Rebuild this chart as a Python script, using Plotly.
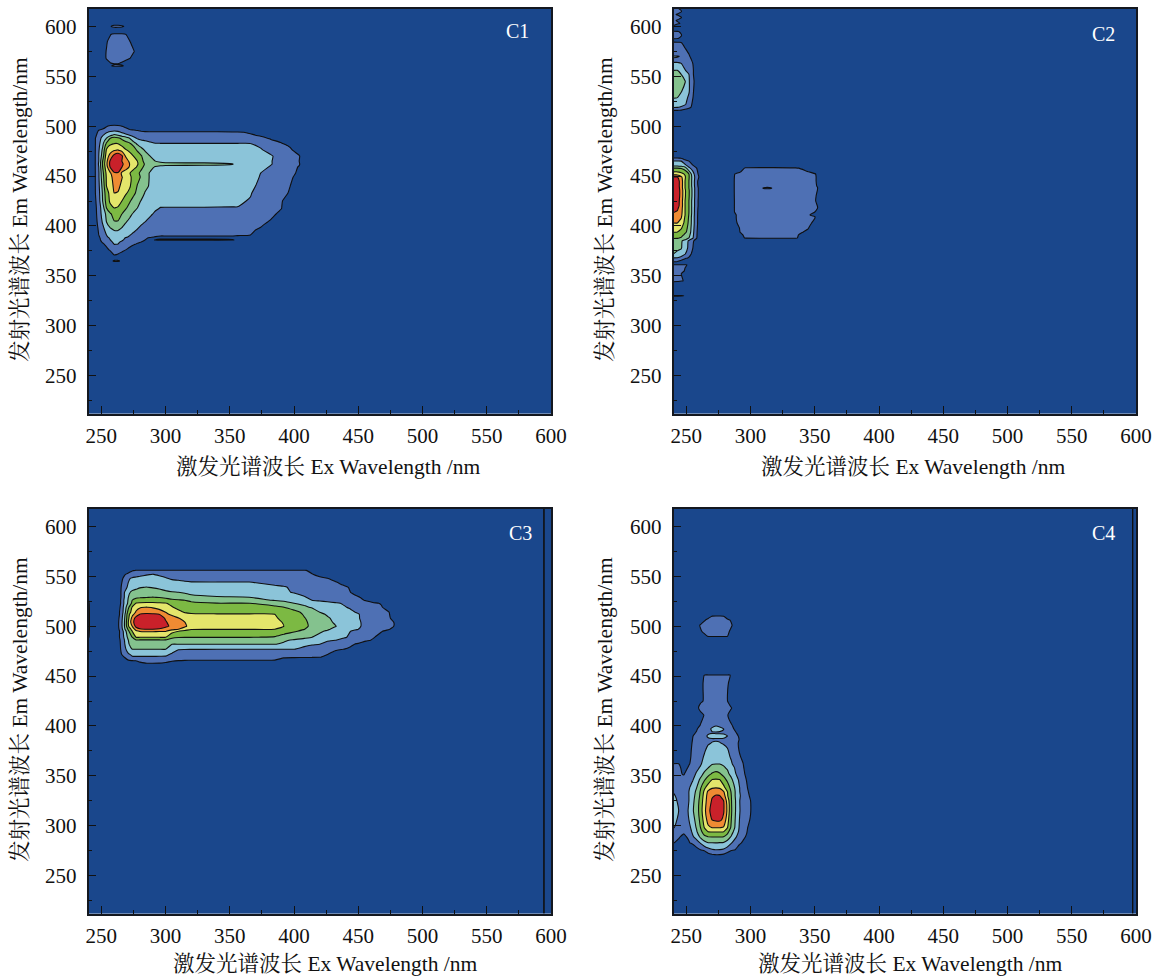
import plotly.graph_objects as go

LEVEL_COLORS = ["#1a478c", "#4e70b4", "#8bc4d9", "#84c28e", "#7cb943", "#e4e66b", "#ef8b33", "#c9212a"]
PANEL_LABELS = ["C1", "C2", "C3", "C4"]
X_TITLE = "激发光谱波长 Ex Wavelength /nm"
Y_TITLE = "发射光谱波长 Em Wavelength/nm"

# ---------- C1 ----------
C1_EX = [240,245,248,251,254,257,260,263,266,269,272,275,278,281,284,288,292,296,300,330,352,356,366,374,382,390,397,404,410,600]
C1_EM = [618,604,600,597,595,592,585,575,568,564,562,560.5,558,505,499,496,494,491,488,483,480,476,470,465,462,459,453,449,440,433,425,418,412,404,396,391,389,388,386,384,382,376,371,368,365,362,212]
C1_Z = [
 [0],
 [0],
 [0,0,0,0,0,.9,1.4,1.4,1.2,.8],
 [0],
 [0],
 [0,0,0,0,.5,.95,1.3,1.3,1.3,1.02,.6],
 [0,0,0,.4,.9,1.3,1.5,1.5,1.5,1.3,1.05,.6],
 [0,0,0,.6,1.05,1.4,1.6,1.6,1.6,1.5,1.3,1.1,.6],
 [0,0,0,.6,1.05,1.3,1.4,1.4,1.4,1.3,1.05,.6],
 [0,0,0,0,.8,1.02,1.1,1.1,.98,.7],
 [0,0,0,0,.6,.9,.95,.95,.9,.6],
 [0,0,0,0,0,.9,1.2,1.2,1.1,.8],
 [0],
 [0],
 [0,0,0,.5,1.1,1.4,1.5,1.4,1.2,.9],
 [0,.5,1,1.3,1.4,1.6,1.8,1.7,1.5,1.4,1.3,1.1,.95,.7,.5,.4,.4,.4,.4,.4,.3,.3,.2],
 [0,.8,1.1,1.3,1.9,2.2,2.3,2.2,1.9,1.6,1.4,1.3,1.3,1.3,1.2,1.2,1.2,1.2,1.2,1.2,1.1,1.1,.9,.7,.5,.3],
 [0,.8,1.3,1.9,2.4,2.8,3.2,3.0,2.6,2.3,2.0,1.7,1.5,1.4,1.4,1.4,1.4,1.45,1.5,1.5,1.4,1.4,1.1,.9,.7,.4],
 [0,.9,1.6,2.3,3.0,4.0,4.4,4.2,3.8,3.4,3.0,2.3,1.9,1.7,1.7,1.7,1.7,1.75,1.8,1.8,1.8,1.8,1.4,1.2,.9,.7,.3],
 [0,.9,1.7,2.7,4.1,4.5,4.9,4.9,4.6,4.3,4.05,3.3,2.8,2.5,2.3,2.1,2.0,1.98,1.98,1.98,1.98,1.98,1.98,1.6,1.3,1.03,.7,.2],
 [0,.9,1.8,2.9,4.6,5.3,5.6,5.5,5.0,4.6,4.3,4.0,3.2,2.8,2.6,2.5,2.4,2.35,2.3,2.3,2.3,2.3,2.2,1.9,1.5,1.2,.95,.4],
 [0,.9,1.9,3.2,5.1,5.6,5.9,6.05,5.7,5.1,4.8,4.4,3.9,3.4,2.9,2.7,2.6,2.5,2.45,2.45,2.45,2.45,2.4,2.1,1.7,1.3,1.1,.7],
 [0,.9,2,3.5,5.5,6.4,7.4,7.9,7.2,5.9,5.4,5.0,4.5,4.1,3.5,3.0,2.8,2.7,2.6,2.55,2.55,2.55,2.5,2.4,2.1,1.6,1.3,1.05,.3],
 [0,.9,2,4.0,5.7,7.2,7.6,7.6,7.0,6.5,5.8,5.4,5.0,4.2,3.8,3.4,3.0,2.8,2.7,2.7,2.65,2.6,2.6,2.4,2.05,1.6,1.3,1.0,.3],
 [0,.9,2.1,4.1,5.8,7.3,7.8,7.8,7.2,6.6,6.0,5.5,5.1,4.5,3.9,3.6,3.4,3.3,3.25,3.2,3.05,2.75,2.6,2.4,2.05,1.6,1.3,1.05,.3],
 [0,.9,2,4,5.6,7.1,7.6,7.5,7.0,6.5,5.9,5.3,4.9,4.2,3.8,3.3,2.9,2.75,2.7,2.7,2.65,2.6,2.55,2.3,1.9,1.5,1.25,.95,.2],
 [0,.9,1.9,3.7,5.2,5.9,6.9,6.95,5.8,5.4,5.05,4.6,4.2,3.8,3.4,2.9,2.6,2.5,2.5,2.5,2.5,2.5,2.4,2.0,1.7,1.3,1.15,.9,.2],
 [0,.9,1.9,3.6,5.1,5.7,6.4,6.5,6.05,5.6,5.2,4.7,4.3,3.9,3.4,2.9,2.6,2.5,2.45,2.4,2.4,2.4,2.3,1.95,1.6,1.3,1.1,.8],
 [0,.9,1.8,3.3,5.0,5.5,6.2,6.2,5.8,5.5,5.1,4.6,3.95,3.6,3.2,2.9,2.6,2.45,2.4,2.35,2.35,2.35,2.2,1.8,1.5,1.2,1.0,.5],
 [0,.9,1.7,3.1,4.6,5.3,6.0,5.95,5.4,5.1,4.8,4.2,3.8,3.4,2.95,2.7,2.5,2.35,2.3,2.3,2.25,2.25,2.05,1.7,1.4,1.15,.95,.3],
 [0,.8,1.6,3.0,4.4,5.2,5.5,5.4,5.0,4.6,4.1,3.7,3.3,2.95,2.7,2.5,2.35,2.2,2.15,2.15,2.1,2.1,1.95,1.6,1.3,1.05,.7],
 [0,.7,1.5,2.5,4.0,4.7,5.0,4.9,4.5,4.1,3.7,3.3,3.0,2.7,2.5,2.25,2.1,1.98,1.98,1.98,1.98,1.98,1.7,1.4,1.2,1.02,.6],
 [0,.7,1.4,2.4,3.2,3.9,4.3,4.3,4.0,3.6,3.2,2.9,2.7,2.5,2.3,2.1,1.9,1.7,1.65,1.6,1.6,1.6,1.4,1.2,1.1,.9,.2],
 [0,.6,1.3,2.1,3.0,3.6,3.95,3.95,3.5,3.05,2.8,2.6,2.4,2.2,2.0,1.8,1.6,1.5,1.45,1.4,1.4,1.4,1.25,1.1,.95,.5],
 [0,.5,1.1,1.7,2.3,2.8,3.05,3.05,2.8,2.6,2.4,2.2,1.95,1.7,1.5,1.35,1.25,1.2,1.2,1.15,1.15,1.15,1.05,.95,.4],
 [0,.4,1.0,1.5,2.0,2.3,2.5,2.5,2.4,2.2,2.05,1.8,1.6,1.4,1.3,1.15,1.1,1.05,1.05,1.05,1.05,1.05,1.0,.5],
 [0,.3,.9,1.4,1.9,2.2,2.4,2.4,2.3,2.1,1.9,1.6,1.4,1.3,1.2,1.05,.98,.95,.95,.95,.95,.9,.7],
 [0,.2,.85,1.3,1.8,2.1,2.3,2.3,2.2,1.95,1.7,1.5,1.3,1.15,1.05,.95,.85,.85,.85,.85,.85,.7,.3],
 [0,.2,.8,1.25,1.7,2.0,2.2,2.2,2.1,1.85,1.6,1.4,1.2,1.1,1.0,.9,1.02,1.1,1.1,1.1,1.05,.9],
 [0,.1,.7,1.1,1.5,1.9,2.1,2.1,1.9,1.7,1.5,1.3,1.1,1.0,.9,.6,.4,.4,.4,.4,.3,.2],
 [0,0,.5,.9,1.2,1.6,2.05,2.0,1.6,1.4,1.25,1.1,.95,.8,.5,.2],
 [0,0,.2,.5,.8,1.1,1.4,1.4,1.2,1.0,.8,.5,.2],
 [0,0,0,.1,.3,.6,1.02,.9,.7,.4,.2],
 [0],
 [0,0,0,0,0,.5,1.2,1.2,.7],
 [0],
 [0],
]

# ---------- C2 ----------
C2_EX = [240,243,246,249,252,255,258,261,285,287,289,292,296,308,310,313,316,318,335,345,350,352,354,600]
C2_EM = [618,615,612,609,606,603,600,597,595,591,588,586,584,578,572,570,566,563,556,552,545,535,528,522,519,516,513,470,468,465,461,458,452,449,445,440,438,436,430,425,420,418,414,411,409,403,398,394,391,388,385,378,372,368,364,362,361,355,352,345,341,332,330,328,212]
C2_Z = [
 [1.1,1.05,.9,.3],
 [1.3,1.2,1.05,.5],
 [1.1,.95,.6],
 [1.3,1.2,1.05,.4],
 [1.1,.95,.6],
 [1.2,1.1,.95],
 [.9,.5],
 [0],
 [1.1,1.05,.9],
 [1.2,1.2,1.05,.5],
 [1.1,1.05,.8],
 [.5],
 [1.1,1.1,1.02,.7,.2],
 [1.4,1.4,1.3,1.02,.7,.3],
 [1.6,1.6,1.5,1.3,1.02,.5],
 [2.1,2.05,1.95,1.4,1.1,.7],
 [1.8,1.8,1.7,1.5,1.25,.9,.2],
 [2.1,2.1,2.0,1.6,1.3,1.0,.3],
 [3.0,3.0,2.9,2.05,1.6,1.1,.5],
 [3.4,3.4,3.0,2.5,2.0,1.1,.5],
 [3.7,3.6,3.4,3.05,2.1,1.2,.6],
 [3.6,3.5,3.05,2.7,2.1,1.1,.6],
 [3.0,2.95,2.7,2.3,1.8,1.02,.4],
 [2.6,2.5,2.3,2.1,1.6,.8,.2],
 [2.1,2.05,1.9,1.6,1.3,.7],
 [1.05,1.05,.95,.7,.3],
 [0],
 [0],
 [1.05,1.05,.95,.6,.3,.1],
 [2.05,2.05,2,1.3,1.0,.6,.3],
 [2.6,2.6,2.4,2.2,1.5,1.0,.5],
 [4,4,3.9,3.5,2.2,1.6,1.0,.3, 0,0,.3,.6,1.1,1.2,1.2,1.2,1.2,1.2,1.1,.7,.4,.2,0],
 [5.6,5.6,5.3,4.9,4.0,2.4,1.3,.5, 0,.95,1.1,1.2,1.3,1.3,1.3,1.3,1.3,1.3,1.3,1.2,1.05,.9,0],
 [7.05,7.05,6.2,5.1,4.1,2.6,1.4,.7, 0,.95,1.2,1.3,1.35,1.35,1.35,1.35,1.35,1.35,1.35,1.25,1.1,.9,0],
 [7.8,7.5,6.5,5.0,4.0,2.6,1.2,.5, 0,.95,1.3,1.3,1.4,1.4,1.4,1.4,1.4,1.4,1.4,1.3,1.1,.9,0],
 [7.9,7.5,6.5,5.0,4.0,2.6,1.25,.5, 0,.95,1.3,1.3,1.4,1.4,1.4,1.4,1.4,1.4,1.4,1.3,1.15,.95,0],
 [7.9,7.6,6.5,5.0,4.0,2.7,1.3,.6, 0,.95,1.3,1.3,1.4,1.3,.9,.8,.9,1.3,1.4,1.3,1.2,1.05,.5],
 [7.9,7.6,6.6,5.1,4.1,2.7,1.3,.6, 0,.95,1.3,1.3,1.4,1.4,1.4,1.4,1.4,1.4,1.4,1.3,1.15,1.0,0],
 [7.9,7.6,6.6,5.1,4.1,2.7,1.3,.6, 0,.95,1.25,1.3,1.35,1.35,1.35,1.35,1.35,1.35,1.35,1.3,1.1,.9,0],
 [7.85,7.5,6.5,5.0,4.0,2.6,1.3,.5, 0,.95,1.2,1.3,1.3,1.3,1.3,1.3,1.3,1.3,1.3,1.25,1.05,.9,0],
 [7.8,7.4,6.5,5.0,4.0,2.6,1.3,.5, 0,.95,1.2,1.25,1.25,1.25,1.25,1.25,1.25,1.25,1.25,1.25,1.1,1.0,0],
 [7.4,7.2,6.4,5.0,4.0,2.6,1.25,.5, 0,.95,1.2,1.25,1.25,1.25,1.25,1.25,1.25,1.25,1.25,1.2,1.1,1.03,.7],
 [7.05,6.9,6.3,5.0,4.0,2.6,1.2,.5, 0,.95,1.15,1.2,1.2,1.2,1.2,1.2,1.2,1.2,1.2,1.1,1.0,.8,0],
 [6.8,6.7,6.2,5.0,3.95,2.55,1.2,.45, 0,.8,1.02,1.2,1.2,1.2,1.2,1.2,1.2,1.2,1.2,1.03,.9,.6,0],
 [6.6,6.5,6.1,4.9,3.9,2.5,1.2,.4, 0,.8,1.02,1.2,1.2,1.2,1.2,1.2,1.2,1.2,1.2,1.1,1.03,.6,0],
 [6,6,5.6,4.7,3.8,2.5,1.2,.4, 0,.7,.98,1.1,1.2,1.2,1.2,1.2,1.2,1.2,1.2,1.1,.9,.3,0],
 [5.4,5.4,5.1,4.4,3.7,2.4,1.15,.35, 0,.5,.9,1.03,1.2,1.2,1.2,1.2,1.2,1.2,1.2,1.02,.5,0,0],
 [5.05,5,4.7,4.2,3.6,2.3,1.1,.3, 0,.3,.8,1.02,1.15,1.15,1.15,1.15,1.15,1.15,1.15,.9,.3,0,0],
 [4.6,4.5,4.3,3.8,3.3,2.2,1.08,.25, 0,0,.5,.9,1.1,1.2,1.2,1.2,1.2,1.2,1.15,.5,0,0,0],
 [4.1,4.1,3.9,3.5,3.0,2.1,1.05,.2, 0,0,0,.8,1.05,1.1,1.1,1.1,1.1,1.1,1.1,.4,0,0,0],
 [3.6,3.4,3.1,2.7,1.8,1.1,.7],
 [3.2,3.1,3.05,2.6,1.7,1.02,.4],
 [3.0,2.9,2.7,2.05,1.4,.7],
 [2.0,1.95,1.6,1.2,.9,.3],
 [.98,.9,.6,.2],
 [.5],
 [1.1,1.1,1.1,1.05,.95],
 [1.4,1.3,1.2,.95,.4],
 [1.3,1.2,1.0,.7],
 [1.3,1.2,1.05,.95,.6],
 [0],
 [0],
 [1.2,1.2,1.1,.95,.3],
 [0],
 [0],
]

# ---------- C3 ----------
C3_EX = [240,242,262,265,268,271,274,277,280,285,290,295,300,305,310,315,320,340,365,385,392,400,408,414,420,426,432,438,444,450,456,462,468,474,480,594.2,594.5,594.8,600]
C3_EM = [618,558,556,552,548,544,539,534,529,526,523,519,514,512,508,504,500,497,495,489,486,482,477,472,469,466,463,461,212]
C3_EDGE = [0,1.05,0,0]
C3_Z = [
 [0],
 [0],
 [0,0,0,0,0,.4,.9,1.03,1.03,1.03,1.03,1.03,1.03,1.03,1.03,1.03,1.03,1.03,1.03,1.03,1.03,1.03,1.03,.9,.4],
 [0,0,0,.4,.9,1.3,1.5,1.6,1.7,1.9,2.02,1.9,1.8,1.7,1.7,1.6,1.6,1.5,1.5,1.4,1.3,1.2,1.1,1.02,.85,.6,.2],
 [0,0,.2,.7,1.2,1.9,2.1,2.2,2.3,2.4,2.4,2.2,2.05,1.9,1.9,1.85,1.85,1.8,1.7,1.6,1.5,1.4,1.3,1.2,1.1,1.0,.8,.4],
 [0,0,.2,.8,1.4,2.0,2.3,2.4,2.5,2.6,2.6,2.5,2.3,2.2,2.1,2.05,2.02,2.02,2.02,1.85,1.8,1.7,1.5,1.4,1.3,1.2,1.05,.85,.4],
 [0,0,.3,.9,1.6,2.2,2.6,2.8,2.95,3.02,2.95,2.85,2.7,2.55,2.45,2.35,2.25,2.25,2.25,2.1,2.05,1.9,1.75,1.6,1.45,1.35,1.25,1.12,.95,.4],
 [0,0,.4,.9,2.0,2.8,3.2,3.3,3.4,3.5,3.4,3.3,3.15,3.05,3.0,2.9,2.8,2.7,2.6,2.35,2.1,1.95,1.8,1.7,1.55,1.45,1.3,1.15,1.0,.7,.2],
 [0,0,.4,.9,2.05,3.0,3.6,3.8,3.9,3.95,4.02,3.95,3.8,3.65,3.5,3.4,3.2,3.05,3.0,2.7,2.55,2.3,2.05,1.85,1.7,1.6,1.5,1.35,1.2,1.05,.8,.3],
 [1.05,0,.4,1,2.2,3.1,4.0,4.4,4.5,4.55,4.55,4.5,4.4,4.2,4.1,4.0,3.7,3.4,3.3,2.95,2.8,2.5,2.25,2.0,1.85,1.7,1.6,1.45,1.3,1.15,.95,.6],
 [1.4,0,.4,1,2.2,3.2,4.2,5.05,5.1,5.15,5.15,5.1,5.05,4.8,4.6,4.4,4.3,4.02,4.02,3.7,3.4,3.0,2.8,2.6,2.45,2.3,2.1,1.95,1.7,1.5,1.3,1.1,.95,.4],
 [1.5,0,.4,1.1,2.4,3.8,5.1,5.7,5.9,6.02,5.9,5.7,5.4,5.05,4.8,4.6,4.5,4.4,4.3,4.15,4.02,3.6,3.15,2.9,2.7,2.5,2.3,2.1,1.9,1.7,1.4,1.2,1.05,.7,.2],
 [1.6,0,.5,1.2,2.5,4.4,5.4,6.1,6.6,6.8,6.7,6.4,6.0,5.6,5.2,4.95,4.85,4.8,4.8,4.75,4.6,4.3,3.8,3.5,3.0,2.8,2.6,2.4,2.15,1.9,1.6,1.3,1.15,1.0,.4],
 [1.6,0,.5,1.2,2.7,4.7,5.7,6.4,7.03,7.1,7.1,7.03,6.2,5.8,5.5,5.2,5.08,5.05,5.05,5.0,4.7,4.4,3.9,3.6,3.2,2.9,2.7,2.5,2.3,2.05,1.7,1.4,1.2,1.03,.5],
 [1.6,0,.6,1.3,2.9,4.8,6.3,7.4,7.8,7.9,7.8,7.5,6.9,6.4,6.05,5.7,5.4,5.3,5.3,5.1,4.8,4.4,4.05,3.7,3.4,3.1,2.8,2.6,2.4,2.05,1.75,1.5,1.3,1.08,.6],
 [1.6,0,.6,1.4,3.0,5.0,6.6,7.6,7.9,7.95,7.9,7.6,7.1,6.6,6.3,6.0,5.5,5.4,5.3,5.2,4.95,4.6,4.2,3.7,3.5,3.2,2.9,2.7,2.4,2.1,1.8,1.5,1.3,1.15,.9],
 [1.6,0,.6,1.4,3.0,4.9,6.0,7.3,7.7,7.8,7.7,7.5,7.2,6.8,6.5,6.2,5.5,5.35,5.3,5.15,5.0,4.6,4.2,3.8,3.5,3.3,3.05,2.7,2.4,2.1,1.8,1.5,1.3,1.15,.9],
 [1.6,0,.6,1.3,2.8,4.2,5.4,6.4,6.9,7.02,7.0,6.9,6.6,6.3,6.0,5.4,5.05,5.03,5.03,5.0,4.5,4.2,4.02,3.6,3.3,3.1,2.8,2.5,2.25,2.0,1.7,1.4,1.2,1.05,.4],
 [1.5,0,.5,1.2,2.4,3.8,5.0,5.8,6.05,6.1,6.1,6.05,6.05,5.4,5.0,4.8,4.7,4.7,4.7,4.5,4.3,4.1,3.8,3.4,3.1,2.9,2.5,2.3,2.0,1.8,1.5,1.25,1.05,.7],
 [1.2,0,.5,1.2,2.2,3.3,4.0,5.02,5.05,5.05,5.05,5.05,5.03,4.1,4.05,4.03,4.03,4.03,4.03,3.95,3.7,3.4,3.2,3.0,2.8,2.5,2.3,2.1,1.9,1.6,1.35,1.05,.7,.2],
 [0,0,.4,1.1,2.0,3.0,3.7,3.9,3.9,3.9,3.9,3.9,3.9,3.8,3.6,3.55,3.5,3.5,3.5,3.3,3.1,2.9,2.7,2.5,2.3,2.1,2.02,1.8,1.6,1.4,1.15,.9,.3],
 [0,0,.3,1.05,1.9,2.95,3.2,3.3,3.3,3.3,3.3,3.3,3.2,3.02,3.02,3.02,3.02,3.02,3.02,3.02,2.9,2.6,2.3,2.1,2.0,1.75,1.5,1.3,1.1,.9,.5],
 [0,0,.2,1.0,1.7,2.5,3.0,3.02,3.02,3.02,3.02,3.02,3.02,2.4,2.05,2.03,2.03,2.02,2.02,2.02,2.02,2.02,1.7,1.5,1.35,1.2,1.1,1.02,.9,.5],
 [0,0,0,.9,1.3,1.9,2.2,2.3,2.3,2.3,2.3,2.25,2.2,1.9,1.6,1.5,1.4,1.4,1.3,1.3,1.25,1.2,1.15,1.1,1.05,1.02,.8,.3],
 [0,0,0,.6,1.02,1.4,1.9,1.9,1.9,1.9,1.9,1.9,1.9,1.6,1.3,1.2,1.1,1.1,1.08,1.08,1.07,1.06,1.05,1.05,1.03,.85],
 [0,0,0,0,.7,1.0,1.2,1.3,1.4,1.4,1.4,1.38,1.35,1.2,1.1,1.05,1.03,1.02,1.02,1.0,.8,.7,.6,.5,.3],
 [0,0,0,0,0,0,0,0,.8,1.02,1.03,1.0,.9,.7,.5,.3,.2],
 [0],
 [0],
]

# ---------- C4 ----------
C4_EX = [240,244,248,252,255,258,261,264,267,270,273,276,279,282,285,288,291,294,297,300,303,597.1,597.4,597.7,600]
C4_EM = [618,513,510,506,501,495,490,487,454,451,443,436,425,418,411,401,397,393,390,386.5,383,375,369,362,358,352,346,338,334,330,325,315,306,298,294,289,283,276,271,268,212]
C4_EDGE = [0,1.05,0,0]
C4_Z = [
 [0],
 [0],
 [0,0,0,0,0,0,0,0,.6,1.03,1.1,1.1,1.03,.5],
 [0,0,0,0,0,0,.3,.9,1.3,1.5,1.6,1.6,1.4,1.2,.9,.2],
 [0,0,0,0,0,.6,1.1,1.4,1.6,1.8,1.8,1.8,1.6,1.4,1.1,.6],
 [0,0,0,0,0,0,.9,1.2,1.4,1.5,1.5,1.5,1.4,1.2,.8],
 [0,0,0,0,0,0,0,.8,1.05,1.1,1.1,1.1,1.1,1.03,.4],
 [0],
 [0],
 [0,0,0,0,0,0,.4,1.02,1.05,1.05,1.05,1.05,1.05,1.05,.98],
 [0,0,0,0,0,0,.8,1.1,1.3,1.4,1.4,1.3,1.2,1.1,.7],
 [0,0,0,0,0,0,.9,1.05,1.2,1.3,1.3,1.2,1.1,1.03,.5],
 [0,0,0,0,0,0,.9,1.05,1.3,1.4,1.4,1.3,1.2,1.02,.3],
 [0,0,0,0,0,.8,1.2,1.4,1.5,1.6,1.6,1.5,1.4,1.2,1.05,.5],
 [0,0,0,0,0,0,.8,1.03,1.2,1.3,1.3,1.3,1.2,1.05,.6],
 [0,0,0,0,0,.7,1.02,1.2,1.5,1.8,1.9,1.8,1.6,1.3,1.05,.8],
 [0,0,0,0,.7,.95,1.2,1.5,1.8,2.1,2.3,2.2,2.02,1.5,1.2,.9,.4],
 [0,0,0,0,.9,1.05,1.3,1.6,1.9,1.95,1.9,1.9,1.9,1.6,1.4,1.1,.8],
 [0,0,0,.4,.98,1.2,1.5,1.8,2.1,2.3,2.3,2.3,2.2,2.0,1.6,1.2,.95,.3],
 [0,0,0,.7,1.02,1.3,1.5,1.7,1.9,1.9,1.9,1.9,1.9,1.8,1.6,1.3,1.0,.4],
 [0,0,0,.8,1.05,1.3,1.5,1.7,1.9,2.03,2.1,2.03,1.9,1.8,1.5,1.2,.95,.3],
 [0,0,0,.85,1.1,1.3,1.6,1.9,2.3,2.6,2.7,2.6,2.4,2.1,1.7,1.3,1.0,.6],
 [0,0,0,.9,1.1,1.4,1.7,2.1,2.5,2.7,2.8,2.8,2.5,2.2,1.9,1.5,1.15,.8],
 [1.02,1.02,.6,.95,1.2,1.5,1.9,2.3,2.8,2.95,2.98,2.98,2.9,2.5,2.1,1.7,1.3,1.05,.5],
 [1.3,1.2,.7,1.1,1.5,1.8,2.1,2.6,3.0,3.3,3.5,3.4,3.1,2.9,2.5,1.9,1.5,1.1,.7],
 [1.3,1.1,.95,1.3,1.7,2.1,2.6,3.2,3.7,4.1,4.3,4.1,3.7,3.2,2.7,2.1,1.6,1.2,.8],
 [1.4,1.3,1.2,1.5,1.95,2.5,3.2,3.9,4.5,5.05,5.1,5.05,4.4,3.8,3.2,2.5,1.9,1.4,.95,.3],
 [1.7,1.4,1.3,1.9,2.4,3.0,3.9,4.8,5.5,5.9,5.98,5.9,5.3,4.5,3.7,2.9,2.1,1.5,1.1,.6],
 [1.95,1.6,1.4,2.0,2.6,3.2,4.1,5.2,6.2,6.6,6.8,6.6,6.1,5.0,3.9,3.0,2.1,1.6,1.15,.8],
 [2.1,1.8,1.5,2.0,2.7,3.3,4.2,5.4,6.4,6.9,7.05,7.03,6.5,5.1,4.0,3.0,2.2,1.6,1.2,.9],
 [2.2,1.9,1.5,2.0,2.8,3.4,4.4,5.5,6.5,7.1,7.6,7.6,7.0,5.6,4.05,3.1,2.1,1.6,1.3,1.0,.4],
 [2.3,2.0,1.5,2.1,2.9,3.5,4.5,5.7,6.7,7.4,7.9,7.9,7.1,5.8,4.1,3.1,2.1,1.7,1.3,1.03,.5],
 [2.2,1.9,1.4,2.0,2.7,3.3,4.3,5.4,6.4,7.02,7.2,7.2,6.8,5.4,4.0,3.0,2.05,1.6,1.2,.95,.3],
 [2.05,1.7,1.2,1.7,2.4,3.1,4.0,5.0,5.8,6.0,6.02,6.02,5.9,5.0,3.8,2.9,2.0,1.5,1.1,.7],
 [1.5,1.4,1.08,1.5,2.2,2.9,3.7,4.5,5.02,5.05,5.05,5.05,5.0,4.3,3.4,2.6,1.9,1.4,1.05,.5],
 [1.2,1.05,.9,1.1,1.9,2.4,3.2,3.8,4.02,4.05,4.05,4.05,4.0,3.6,2.9,2.2,1.6,1.2,.9,.2],
 [1.02,.9,.7,.95,1.2,1.6,2.1,2.7,3.0,3.02,3.03,3.0,2.95,2.6,2.1,1.6,1.2,.9,.3],
 [0,0,0,0,.3,.7,1.0,1.3,1.7,1.95,2.02,2.0,1.9,1.6,1.2,1.0,.6],
 [0,0,0,0,0,0,0,0,.7,.9,1.02,1.0,.9,.5],
 [0],
 [0],
]

X_TICKS = [250,300,350,400,450,500,550,600]
Y_TICKS = [250,300,350,400,450,500,550,600]
X_RANGE = [240,600]
Y_RANGE = [212,618]


def grid(ex, rows, edge=None):
    out = []
    n = len(ex) - (len(edge) if edge else 0)
    for r in rows:
        row = list(r) + [0] * (n - len(r))
        out.append((row + list(edge) if edge else row))
    return out


PANELS = [
    (C1_EX, C1_EM, grid(C1_EX, C1_Z)),
    (C2_EX, C2_EM, grid(C2_EX, C2_Z)),
    (C3_EX, C3_EM, grid(C3_EX, C3_Z, C3_EDGE)),
    (C4_EX, C4_EM, grid(C4_EX, C4_Z, C4_EDGE)),
]

W, H = 1162, 978
BOXES = [(88.5, 551, 8.5, 413.5), (673.5, 1136, 8.5, 413.5), (88.5, 551, 508.5, 913.5), (673.5, 1136, 508.5, 913.5)]
X_TITLE_POS = [(328, 467), (913, 467), (325, 964), (910, 964)]
Y_TITLE_POS = [(20, 210), (605, 210), (20, 710), (605, 710)]
LABEL_POS = [(574, 595), (575, 592), (576, 593), (575, 593)]
FONT = "Liberation Serif, Noto Serif CJK SC, Noto Sans CJK SC, serif"

n = len(LEVEL_COLORS)
colorscale = []
for i, c in enumerate(LEVEL_COLORS):
    colorscale += [[i / n, c], [(i + 1) / n, c]]

fig = go.Figure()
layout = dict(width=W, height=H, margin=dict(l=0, r=0, t=0, b=0, autoexpand=False), paper_bgcolor="white",
              plot_bgcolor=LEVEL_COLORS[0], showlegend=False,
              font=dict(family=FONT, size=21, color="#111"))
annots = []
for i, ((ex, em, z), (x0, x1, y0, y1)) in enumerate(zip(PANELS, BOXES)):
    s = "" if i == 0 else str(i + 1)
    fig.add_trace(go.Contour(
        x=ex, y=em[::-1], z=z[::-1], xaxis="x" + s, yaxis="y" + s,
        autocontour=False, zmin=0, zmax=n,
        contours=dict(start=1, end=7, size=1, coloring="fill", showlines=True),
        line=dict(color="#101010", width=1.1, smoothing=0.5),
        colorscale=colorscale, showscale=False, hoverinfo="skip"))
    axis_common = dict(showgrid=False, zeroline=False, showline=True, mirror=True,
                       linecolor="#14181f", linewidth=1.5,
                       ticks="inside", ticklen=8, tickwidth=1.3, tickcolor="#111",
                       tickfont=dict(family=FONT, size=21, color="#111"),
                       minor=dict(ticks="inside", ticklen=4, tickwidth=1.2, tickcolor="#111", dtick=25))
    layout["xaxis" + s] = dict(axis_common, domain=[x0 / W, x1 / W], range=X_RANGE,
                               tickvals=X_TICKS, anchor="y" + s, ticklabelstandoff=3)
    layout["yaxis" + s] = dict(axis_common, domain=[1 - y1 / H, 1 - y0 / H], range=Y_RANGE,
                               tickvals=Y_TICKS, anchor="x" + s, ticklabelstandoff=6)
    annots.append(dict(text=PANEL_LABELS[i], x=LABEL_POS[i][0], y=LABEL_POS[i][1],
                       xref="x" + s, yref="y" + s, showarrow=False,
                       font=dict(family=FONT, size=20, color="white")))
    annots.append(dict(text=X_TITLE, x=X_TITLE_POS[i][0] / W, y=1 - X_TITLE_POS[i][1] / H,
                       xref="paper", yref="paper", showarrow=False, xanchor="center", yanchor="middle",
                       font=dict(family=FONT, size=21.5, color="#111")))
    annots.append(dict(text=Y_TITLE, x=Y_TITLE_POS[i][0] / W, y=1 - Y_TITLE_POS[i][1] / H,
                       xref="paper", yref="paper", showarrow=False, textangle=-90,
                       xanchor="center", yanchor="middle",
                       font=dict(family=FONT, size=21.5, color="#111")))
layout["annotations"] = annots
fig.update_layout(**layout)
fig.write_html("out.html", config={"displayModeBar": False}, post_script="document.body.style.margin='0';")
